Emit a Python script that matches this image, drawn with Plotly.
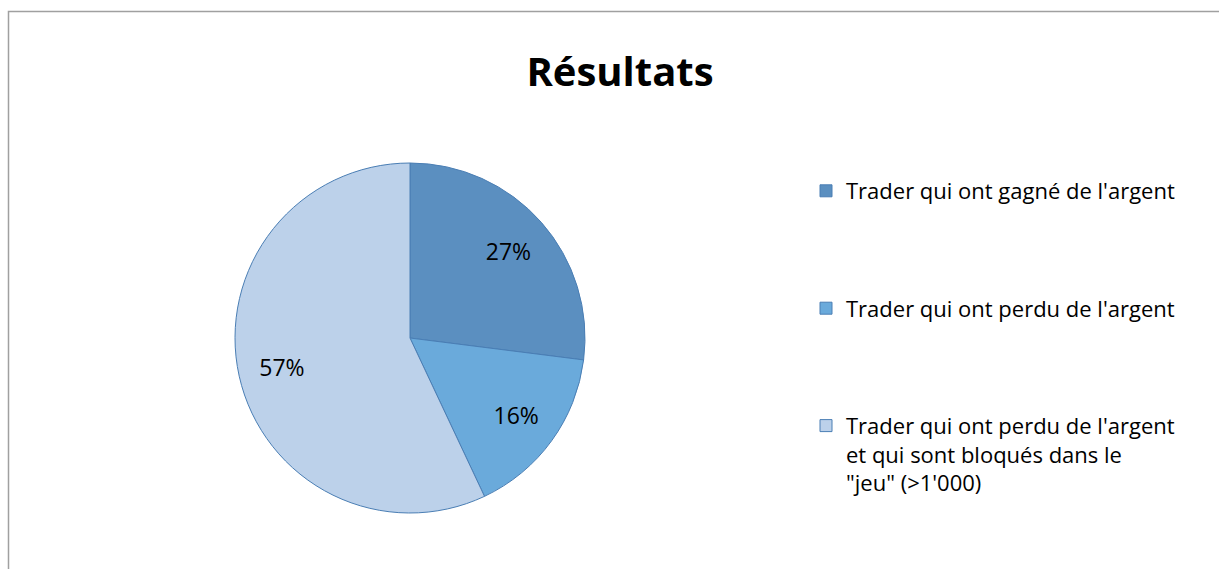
import plotly.graph_objects as go

categories = [
    "Trader qui ont gagné de l'argent",
    "Trader qui ont perdu de l'argent",
    "Trader qui ont perdu de l'argent<br>et qui sont bloqués dans le<br>\"jeu\" (>1'000)",
]
values = [27, 16, 57]
colors = ["#5B8FC0", "#6AAADB", "#BCD1EA"]
title_text = "Résultats"

W, H = 1219, 569
FONT = "Open Sans, Lato, Liberation Sans, Arial, sans-serif"

# extra blank lines to widen spacing between legend entries
legend_labels = [c + "<br> <br> <br> " if i < 2 else c for i, c in enumerate(categories)]

cx, cy, r = 410, 338, 175
domain = dict(x=[(cx - r) / W, (cx + r) / W], y=[(H - cy - r) / H, (H - cy + r) / H])

fig = go.Figure()
# main pie (slices + legend)
fig.add_trace(
    go.Pie(
        labels=legend_labels,
        values=values,
        sort=False,
        direction="clockwise",
        rotation=0,
        marker=dict(colors=colors, line=dict(color="#4A7EB4", width=1)),
        textinfo="none",
        hoverinfo="skip",
        domain=domain,
    )
)
# transparent ring overlay used only to place percentage labels further out
fig.add_trace(
    go.Pie(
        labels=legend_labels,
        values=values,
        sort=False,
        direction="clockwise",
        rotation=0,
        hole=0.5,
        marker=dict(colors=["rgba(0,0,0,0)"] * len(values), line=dict(width=0)),
        textinfo="percent",
        texttemplate="%{percent:.0%}",
        textposition="inside",
        insidetextorientation="horizontal",
        textfont=dict(family=FONT, size=23, color="#000000"),
        hoverinfo="skip",
        showlegend=False,
        domain=domain,
    )
)

fig.update_layout(
    width=W,
    height=H,
    margin=dict(l=0, r=0, t=0, b=0),
    paper_bgcolor="white",
    plot_bgcolor="white",
    title=dict(
        text="<b>" + title_text + "</b>",
        x=620 / W,
        xanchor="center",
        y=1 - 72 / H,
        yanchor="middle",
        font=dict(family=FONT, size=40, color="#000000"),
    ),
    legend=dict(
        x=806 / W,
        xanchor="left",
        y=1 - 170 / H,
        yanchor="top",
        valign="top",
        font=dict(family=FONT, size=22, color="#000000"),
        bgcolor="rgba(0,0,0,0)",
        tracegroupgap=0,
    ),
    showlegend=True,
    shapes=[
        dict(
            type="rect",
            xref="paper",
            yref="paper",
            x0=8.5 / W,
            x1=1.2,
            y0=-0.2,
            y1=1 - 11.5 / H,
            line=dict(color="#A0A0A0", width=1.5),
            fillcolor="rgba(0,0,0,0)",
            layer="below",
        )
    ],
)

fig.write_html(
    "out.html",
    config={"displayModeBar": False},
    post_script="document.body.style.margin='0';",
)
